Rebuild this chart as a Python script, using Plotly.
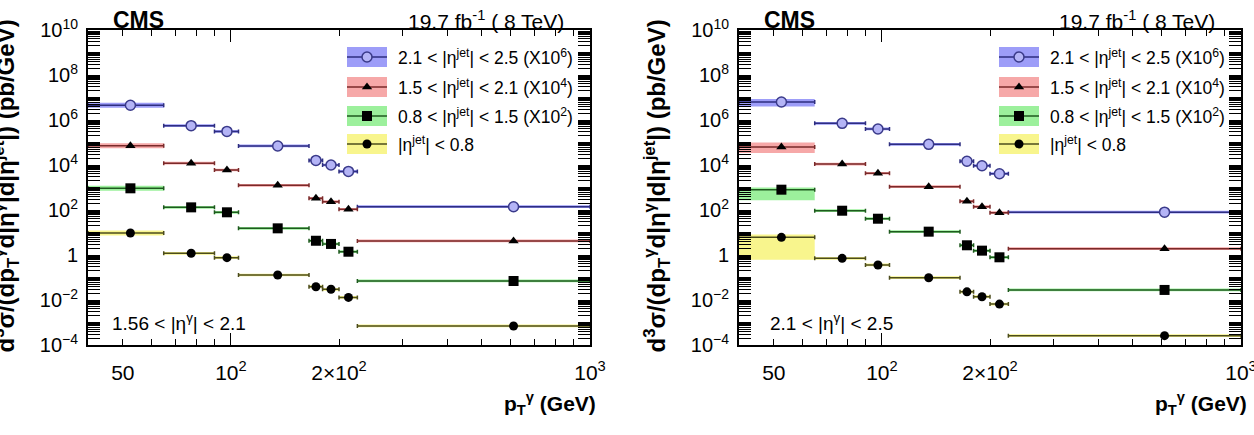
import plotly.graph_objects as go
import numpy as np

W, H = 1254, 435

# ---------------- data ----------------
pt_edges = [40, 65, 90, 105, 165, 180, 200, 225, 1000]
pt_points = [52.5, 77.5, 97.5, 135, 172.5, 190, 212.5, 612.5]

# left panel: 1.56 < |eta^gamma| < 2.1 (already scaled)
left_blue = [4.5e6, 5.6e5, 3.1e5, 7.0e4, 1.6e4, 1.0e4, 5.2e3, 140]
left_red = [7.2e4, 1.2e4, 6.0e3, 1.25e3, 330, 235, 108, 4.2]
left_green = [920, 131, 79, 15.3, 4.3, 3.1, 1.4, 0.07]
left_yellow = [9.5, 1.19, 0.76, 0.129, 0.039, 0.030, 0.013, 7e-4]

# right panel: 2.1 < |eta^gamma| < 2.5
right_blue = [6.3e6, 7.1e5, 4.0e5, 8.3e4, 1.46e4, 9.3e3, 4.1e3, 80]
right_red = [6.3e4, 1.1e4, 4.3e3, 1.09e3, 243, 141, 76, 1.9]
right_green = [800, 93, 41, 10.9, 2.7, 1.56, 0.79, 0.028]
right_yellow = [6.1, 0.71, 0.36, 0.098, 0.023, 0.014, 0.0066, 2.6e-4]

# relative band (uncertainty) up / down fractions
left_band_up = [0.30, 0.15, 0.15, 0.15, 0.15, 0.15, 0.15, 0.15]
left_band_dn = [0.23, 0.13, 0.13, 0.13, 0.13, 0.13, 0.13, 0.13]
right_blue_up = [0.35, 0.15, 0.15, 0.15, 0.15, 0.15, 0.15, 0.15]
right_blue_dn = [0.37, 0.13, 0.13, 0.13, 0.13, 0.13, 0.13, 0.13]
right_red_up = [0.60, 0.15, 0.15, 0.15, 0.15, 0.15, 0.15, 0.15]
right_red_dn = [0.46, 0.13, 0.13, 0.13, 0.13, 0.13, 0.13, 0.13]
right_green_up = [0.25, 0.15, 0.15, 0.15, 0.15, 0.15, 0.15, 0.15]
right_green_dn = [0.66, 0.13, 0.13, 0.13, 0.13, 0.13, 0.13, 0.13]
right_yellow_up = [0.32, 0.15, 0.15, 0.15, 0.15, 0.15, 0.15, 0.15]
right_yellow_dn = [0.90, 0.13, 0.13, 0.13, 0.13, 0.13, 0.13, 0.13]

legend_labels = [
    "2.1 < |η<sup>jet</sup>| < 2.5 (X10<sup>6</sup>)",
    "1.5 < |η<sup>jet</sup>| < 2.1 (X10<sup>4</sup>)",
    "0.8 < |η<sup>jet</sup>| < 1.5 (X10<sup>2</sup>)",
    "|η<sup>jet</sup>| < 0.8",
]
panel_labels = ["1.56 < |η<sup>γ</sup>| < 2.1", "2.1 < |η<sup>γ</sup>| < 2.5"]
x_tickvals = [50, 100, 200, 1000]
x_ticktext = ["50", "10<sup>2</sup>", "2×10<sup>2</sup>", "10<sup>3</sup>"]
y_label_exps = [-4, -2, 0, 2, 4, 6, 8, 10]

# ---------------- styles ----------------
FONT = "Liberation Sans, Arial, Helvetica, sans-serif"
band_colors = ["rgba(105,105,245,0.65)", "rgba(240,110,110,0.6)",
               "rgba(90,230,90,0.6)", "rgba(245,240,80,0.65)"]
line_colors = ["#2e2e80", "#7a2a2a", "#1f5a1f", "#4c4c1c"]
markers = [
    dict(symbol="circle", size=10, color="#b4b4f6", line=dict(color="#3a3a8a", width=1.5)),
    dict(symbol="triangle-up", size=9, color="black", line=dict(width=0)),
    dict(symbol="square", size=10, color="black", line=dict(width=0)),
    dict(symbol="circle", size=9, color="black", line=dict(width=0)),
]

panels = [
    dict(series=[left_blue, left_red, left_green, left_yellow],
         ups=[left_band_up] * 4, dns=[left_band_dn] * 4, xa="x", ya="y"),
    dict(series=[right_blue, right_red, right_green, right_yellow],
         ups=[right_blue_up, right_red_up, right_green_up, right_yellow_up],
         dns=[right_blue_dn, right_red_dn, right_green_dn, right_yellow_dn],
         xa="x2", ya="y2"),
]

fig = go.Figure()

for p in panels:
    # bands
    for vals, up, dn, bc in zip(p["series"], p["ups"], p["dns"], band_colors):
        xs, ys = [], []
        for i, v in enumerate(vals):
            lo, hi = pt_edges[i], pt_edges[i + 1]
            y0, y1 = v * (1 - dn[i]), v * (1 + up[i])
            xs += [lo, hi, hi, lo, lo, None]
            ys += [y0, y0, y1, y1, y0, None]
        fig.add_trace(go.Scatter(x=xs, y=ys, mode="lines", fill="toself",
                                 fillcolor=bc, line=dict(width=0),
                                 xaxis=p["xa"], yaxis=p["ya"], hoverinfo="skip",
                                 showlegend=False))
    # points with horizontal bin-width bars
    for vals, lc, mk in zip(p["series"], line_colors, markers):
        plus = [pt_edges[i + 1] - c for i, c in enumerate(pt_points)]
        minus = [c - pt_edges[i] for i, c in enumerate(pt_points)]
        fig.add_trace(go.Scatter(
            x=pt_points, y=vals, mode="markers", marker=mk,
            error_x=dict(type="data", symmetric=False, array=plus, arrayminus=minus,
                         color=lc, thickness=1.5, width=2),
            xaxis=p["xa"], yaxis=p["ya"], showlegend=False))

# ---------------- legend drawn on a pixel overlay axis ----------------
leg_rows = [57, 87, 116, 144]
for box_x0, text_x in [(347, 396), (999, 1048)]:
    for k, yc in enumerate(leg_rows):
        fig.add_trace(go.Scatter(
            x=[box_x0, box_x0 + 40, box_x0 + 40, box_x0, box_x0],
            y=[yc - 10, yc - 10, yc + 10, yc + 10, yc - 10],
            mode="lines", fill="toself", fillcolor=band_colors[k], line=dict(width=0),
            xaxis="x3", yaxis="y3", hoverinfo="skip", showlegend=False))
        fig.add_trace(go.Scatter(
            x=[box_x0, box_x0 + 40], y=[yc, yc], mode="lines",
            line=dict(color=line_colors[k], width=1.5),
            xaxis="x3", yaxis="y3", hoverinfo="skip", showlegend=False))
        fig.add_trace(go.Scatter(
            x=[box_x0 + 20], y=[yc], mode="markers", marker=markers[k],
            xaxis="x3", yaxis="y3", hoverinfo="skip", showlegend=False))
        fig.add_annotation(x=text_x / W, y=1 - yc / H, xref="paper", yref="paper",
                           text=legend_labels[k], showarrow=False, xanchor="left",
                           yanchor="middle", font=dict(size=17.5, color="black", family=FONT))

# ---------------- axes ----------------
y_tickvals = [10.0 ** k for k in y_label_exps]
y_ticktext = ["1" if k == 0 else "10<sup>" + str(k).replace("-", "−") + "</sup>"
              for k in y_label_exps]
y_odd = [10.0 ** k for k in range(-3, 10, 2)]
y_minor = [m * 10.0 ** k for k in range(-4, 10) for m in range(2, 10)]
x_minor = [40, 60, 70, 80, 90, 300, 400, 500, 600, 700, 800, 900]

ydom = [1 - 345 / H, 1 - 30 / H]
xdoms = [[88 / W, 590 / W], [739 / W, 1241 / W]]
xr = [np.log10(40), 3]

common_axis = dict(type="log", showline=True, linecolor="black", linewidth=2, mirror="allticks",
                   ticks="inside", tickcolor="black", tickwidth=1, showgrid=False, zeroline=False,
                   automargin=False, ticklabeloverflow="allow",
                   tickfont=dict(size=20, color="black", family=FONT))
overlay_axis = dict(type="log", ticks="inside", ticklen=12, tickcolor="black", tickwidth=1,
                    showticklabels=False, showline=False, mirror="allticks", showgrid=False,
                    zeroline=False, automargin=False, tickmode="array")

layout_axes = {}
for i, name in enumerate(["", "2"]):
    xa = dict(common_axis, domain=xdoms[i], range=xr, anchor="y" + name,
              tickmode="array", tickvals=x_tickvals, ticktext=x_ticktext, ticklen=6,
              ticklabelstandoff=8,
              minor=dict(tickmode="array", tickvals=x_minor, ticks="inside", ticklen=6,
                         tickcolor="black", tickwidth=1, showgrid=False))
    xa["tickfont"] = dict(size=21, color="black", family=FONT)
    ya = dict(common_axis, domain=ydom, range=[-4, 10], anchor="x" + name,
              tickmode="array", tickvals=y_tickvals, ticktext=y_ticktext, ticklen=12,
              ticklabelstandoff=4,
              minor=dict(tickmode="array", tickvals=y_minor, ticks="inside", ticklen=6,
                         tickcolor="black", tickwidth=1, showgrid=False))
    layout_axes["xaxis" + name] = xa
    layout_axes["yaxis" + name] = ya

# long ticks at x decades and at odd y decades, via overlay axes
layout_axes["xaxis4"] = dict(overlay_axis, overlaying="x", anchor="y", range=xr,
                             domain=xdoms[0], tickvals=[100, 1000])
layout_axes["xaxis5"] = dict(overlay_axis, overlaying="x2", anchor="y2", range=xr,
                             domain=xdoms[1], tickvals=[100, 1000])
layout_axes["yaxis4"] = dict(overlay_axis, overlaying="y", anchor="x", range=[-4, 10],
                             domain=ydom, tickvals=y_odd)
layout_axes["yaxis5"] = dict(overlay_axis, overlaying="y2", anchor="x2", range=[-4, 10],
                             domain=ydom, tickvals=y_odd)
layout_axes["xaxis3"] = dict(domain=[0, 1], range=[0, W], visible=False, anchor="y3",
                             automargin=False)
layout_axes["yaxis3"] = dict(domain=[0, 1], range=[H, 0], visible=False, anchor="x3",
                             automargin=False)

fig.update_layout(width=W, height=H, margin=dict(l=0, r=0, t=0, b=0, pad=0),
                  paper_bgcolor="white", plot_bgcolor="rgba(0,0,0,0)",
                  showlegend=False, **layout_axes)

# invisible traces so the overlay axes render
for xa_, ya_ in [("x4", "y"), ("x5", "y2"), ("x", "y4"), ("x2", "y5")]:
    fig.add_trace(go.Scatter(x=[100], y=[1], xaxis=xa_, yaxis=ya_, mode="markers",
                             marker=dict(opacity=0), hoverinfo="skip", showlegend=False))

# ---------------- texts ----------------
ytitle = ("<b>d<sup>3</sup>σ/(dp<sub>T</sub><sup>γ</sup>d|η<sup>γ</sup>|"
          "d|η<sup>jet</sup>|) (pb/GeV)</b>")
xtitle = "<b>p<sub>T</sub><sup>γ</sup> (GeV)</b>"
for i, (ax0, ax1) in enumerate([(88, 590), (739, 1241)]):
    fig.add_annotation(x=(ax0 - 64) / W, y=1 - 18 / H, xref="paper", yref="paper",
                       text=ytitle, textangle=-90, showarrow=False,
                       xanchor="right", yanchor="top",
                       font=dict(size=24, color="black", family=FONT))
    fig.add_annotation(x=(ax1 + 8) / W, y=1 - 403 / H, xref="paper", yref="paper",
                       text=xtitle, showarrow=False, xanchor="right", yanchor="middle",
                       font=dict(size=21, color="black", family=FONT))
    fig.add_annotation(x=(ax0 + 23) / W, y=1 - 20 / H, xref="paper", yref="paper",
                       text="<b>CMS</b>", showarrow=False, xanchor="left", yanchor="middle",
                       font=dict(size=23, color="black", family=FONT))
    fig.add_annotation(x=(ax1 - 24) / W, y=1 - 20 / H, xref="paper", yref="paper",
                       text="19.7 fb<sup>-1</sup> ( 8 TeV)", showarrow=False,
                       xanchor="right", yanchor="middle",
                       font=dict(size=21, color="black", family=FONT))
    fig.add_annotation(x=[110, 768][i] / W, y=1 - 322 / H, xref="paper", yref="paper",
                       text=panel_labels[i], showarrow=False, xanchor="left",
                       yanchor="middle", font=dict(size=19, color="black", family=FONT))

fig.write_html("out.html")
